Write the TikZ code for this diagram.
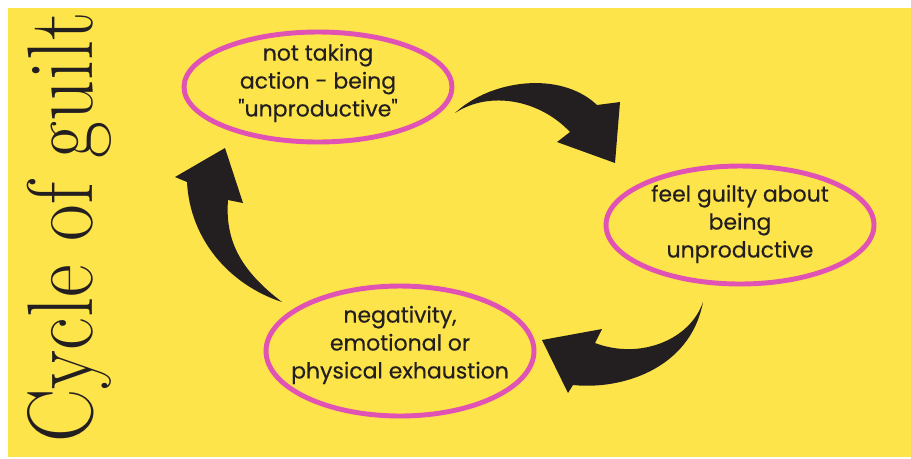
\documentclass[tikz,border=0pt]{standalone}
\usepackage{fontspec}
\usepackage{graphicx}
\usetikzlibrary{shapes.geometric}

\newfontfamily\ovalfont{Poppins}[FakeBold=0.4]

\definecolor{bgyellow}{HTML}{FDE44B}
\definecolor{ovalpink}{HTML}{E053B4}
\definecolor{inkblack}{HTML}{231F20}

\begin{document}
\begin{tikzpicture}[
  x=0.02cm, y=-0.02cm,
  oval/.style={ellipse, draw=ovalpink, line width=2.8pt, inner sep=0pt, minimum width=5.36cm},
  txt/.style={font=\ovalfont\fontsize{12.5}{15.9}\selectfont, text=inkblack, align=center},
  swoosh/.style={fill=inkblack}
]

% Page and background
\fill[white] (0,0) rectangle (911,458);
\fill[bgyellow] (8,8) rectangle (911,457);
\useasboundingbox (0,0) rectangle (911,458);

% Title on the left
\node[rotate=90, anchor=base west, inner sep=0pt, text=inkblack,
      font=\fontsize{53}{53}\selectfont] (title) at (92,443)
  {\scalebox{0.86}[1]{Cycle of guilt}};

% The three stages
\node[oval, minimum height=2.2cm] (idle) at (318,87) {};
\node[txt] (idletext) at (318,83) {not taking\\action - being\\"unproductive"};

\node[oval, minimum height=2.36cm] (guilt) at (740,225) {};
\node[txt] (guilttext) at (740,224) {feel guilty about\\being\\unproductive};

\node[oval, minimum height=2.6cm] (tired) at (400,351) {};
\node[txt] (tiredtext) at (400,345) {negativity,\\emotional or\\physical exhaustion};

% Arrows between the stages
% top: idle -> guilt
\fill[swoosh] (455,113) .. controls (490,80) and (560,70) .. (597,105)
  -- (620,102) -- (615,163) -- (557,142) -- (570,132)
  .. controls (540,100) and (490,90) .. cycle;

% right: guilt -> tired
\fill[swoosh] (703,302) .. controls (690,340) and (640,360) .. (595,343)
  -- (602,329) -- (542,340) -- (568,393) -- (573,385)
  .. controls (620,390) and (690,370) .. cycle;

% left: tired -> idle
\fill[swoosh] (282,302) .. controls (240,270) and (225,240) .. (228,200)
  -- (243,203) -- (225,148) -- (175,177) -- (187,182)
  .. controls (190,240) and (230,285) .. cycle;

\end{tikzpicture}
\end{document}
